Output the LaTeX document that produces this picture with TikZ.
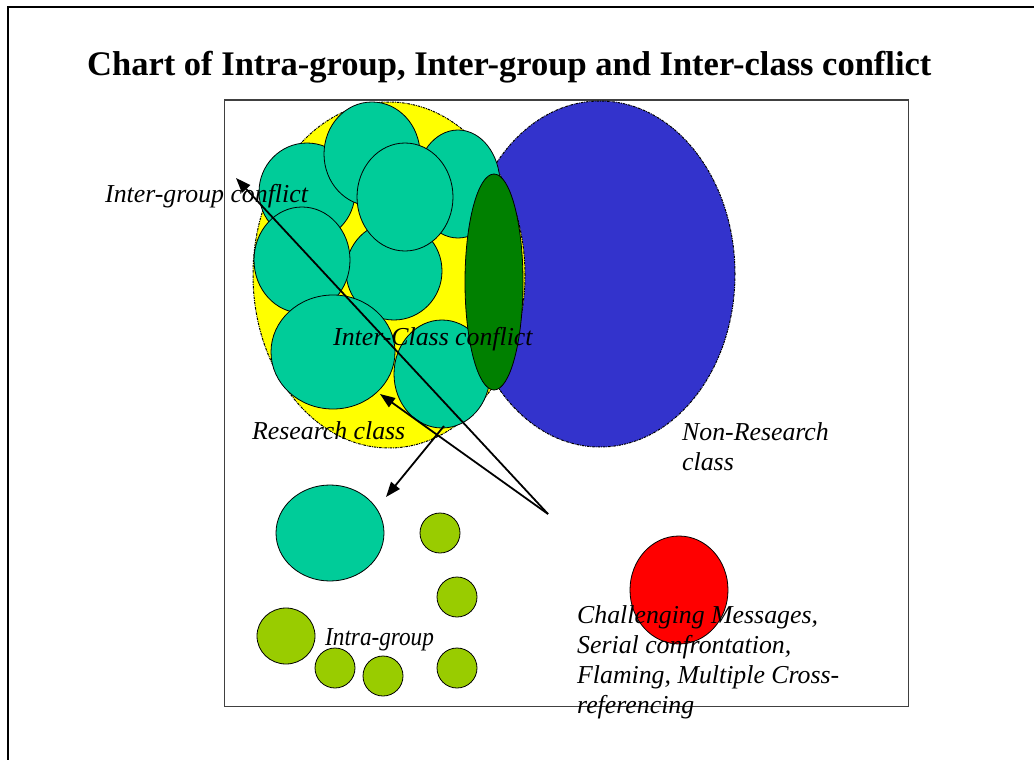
\documentclass[tikz,border=0pt]{standalone}
\usepackage{fontspec}
\setmainfont{Liberation Serif}
\usetikzlibrary{arrows.meta}
\definecolor{tealc}{RGB}{0,204,153}
\definecolor{yel}{RGB}{255,255,0}
\definecolor{bluec}{RGB}{51,51,204}
\definecolor{dgreen}{RGB}{0,128,0}
\definecolor{lime}{RGB}{153,204,0}
\definecolor{redc}{RGB}{255,0,0}
\tikzset{
  classell/.style={draw=black, line width=1pt, dash pattern=on 2.5pt off 1pt on 0.8pt off 1pt},
  grp/.style={fill=tealc, draw=black, line width=0.8pt},
  small/.style={fill=lime, draw=black, line width=0.8pt},
  lbl/.style={anchor=base west, inner sep=0pt, font=\fontsize{25.8}{30}\selectfont\itshape},
  arr/.style={line width=1.8pt, -{Triangle[length=15pt,width=11pt]}},
}
\begin{document}
\begin{tikzpicture}[x=1pt,y=-1pt]
\useasboundingbox (0,0) rectangle (1034,760);
\fill[white] (0,0) rectangle (1034,760);
% outer frame
\draw[line width=2.5pt] (8,760) -- (8,7) -- (1034,7);
% title
\node[anchor=base west, inner sep=0pt, font=\fontsize{34.5}{40}\selectfont\bfseries] (title) at (87,76) {Chart of Intra-group, Inter-group and Inter-class conflict};
% inner rectangle
\draw[line width=1pt, black!75] (224,100) rectangle (908,706);
% class ellipses
\fill[bluec] (600,274) ellipse [x radius=135pt, y radius=173pt];
\draw[classell] (600,274) ellipse [x radius=135pt, y radius=173pt];
\fill[yel] (389,275) ellipse [x radius=136pt, y radius=173pt];
\draw[classell] (389,275) ellipse [x radius=136pt, y radius=173pt];
% groups
\draw[grp] (307,192) ellipse [x radius=48pt, y radius=49pt];
\draw[grp] (458,184) ellipse [x radius=42pt, y radius=54pt];
\draw[grp] (372,154) ellipse [x radius=48pt, y radius=52pt];
\draw[grp] (394,271) ellipse [x radius=48pt, y radius=49pt];
\draw[grp] (405,197) ellipse [x radius=48pt, y radius=54pt];
\draw[grp] (302,260) ellipse [x radius=48pt, y radius=53pt];
\draw[grp] (333,352) ellipse [x radius=62pt, y radius=57pt];
\draw[grp] (442,374) ellipse [x radius=48pt, y radius=54pt];
% inter-class overlap
\draw[fill=dgreen, draw=black, line width=0.8pt] (494,282) ellipse [x radius=29pt, y radius=108pt];
% lower groups
\draw[grp] (330,533) ellipse [x radius=54pt, y radius=48pt];
\draw[small] (440,533) ellipse [x radius=20pt, y radius=20pt];
\draw[small] (457,597) ellipse [x radius=20pt, y radius=20pt];
\draw[small] (286,636) ellipse [x radius=29pt, y radius=28pt];
\draw[small] (335,668) ellipse [x radius=20pt, y radius=20pt];
\draw[small] (383,676) ellipse [x radius=20pt, y radius=20pt];
\draw[small] (457,668) ellipse [x radius=20pt, y radius=20pt];
\draw[fill=redc, draw=black, line width=0.8pt] (679,590) ellipse [x radius=49pt, y radius=54pt];
% labels
\node[lbl] (intergroup) at (105,202) {Inter-group conflict};
\node[lbl] (interclass) at (333,345) {Inter-Class conflict};
\node[lbl] (research) at (252,439) {Research class};
\node[lbl] (nonres) at (682,440) {Non-Research};
\node[lbl] (nonres2) at (682,470) {class};
\node[lbl, xscale=0.9] (intra) at (325,645) {Intra-group};
\node[lbl] (ch1) at (577,623) {Challenging Messages,};
\node[lbl] (ch2) at (577,653) {Serial confrontation,};
\node[lbl] (ch3) at (577,683) {Flaming, Multiple Cross-};
\node[lbl] (ch4) at (577,713) {referencing};
% arrows
\coordinate (src) at (548,514);
\coordinate (tipA) at (236,178);
\coordinate (tipB) at (380,394);
\coordinate (src2) at (444,426);
\coordinate (tipC) at (386,497);
\draw[arr] (src) -- (tipA);
\draw[arr] (src) -- (tipB);
\draw[arr] (src2) -- (tipC);
\end{tikzpicture}
\end{document}
